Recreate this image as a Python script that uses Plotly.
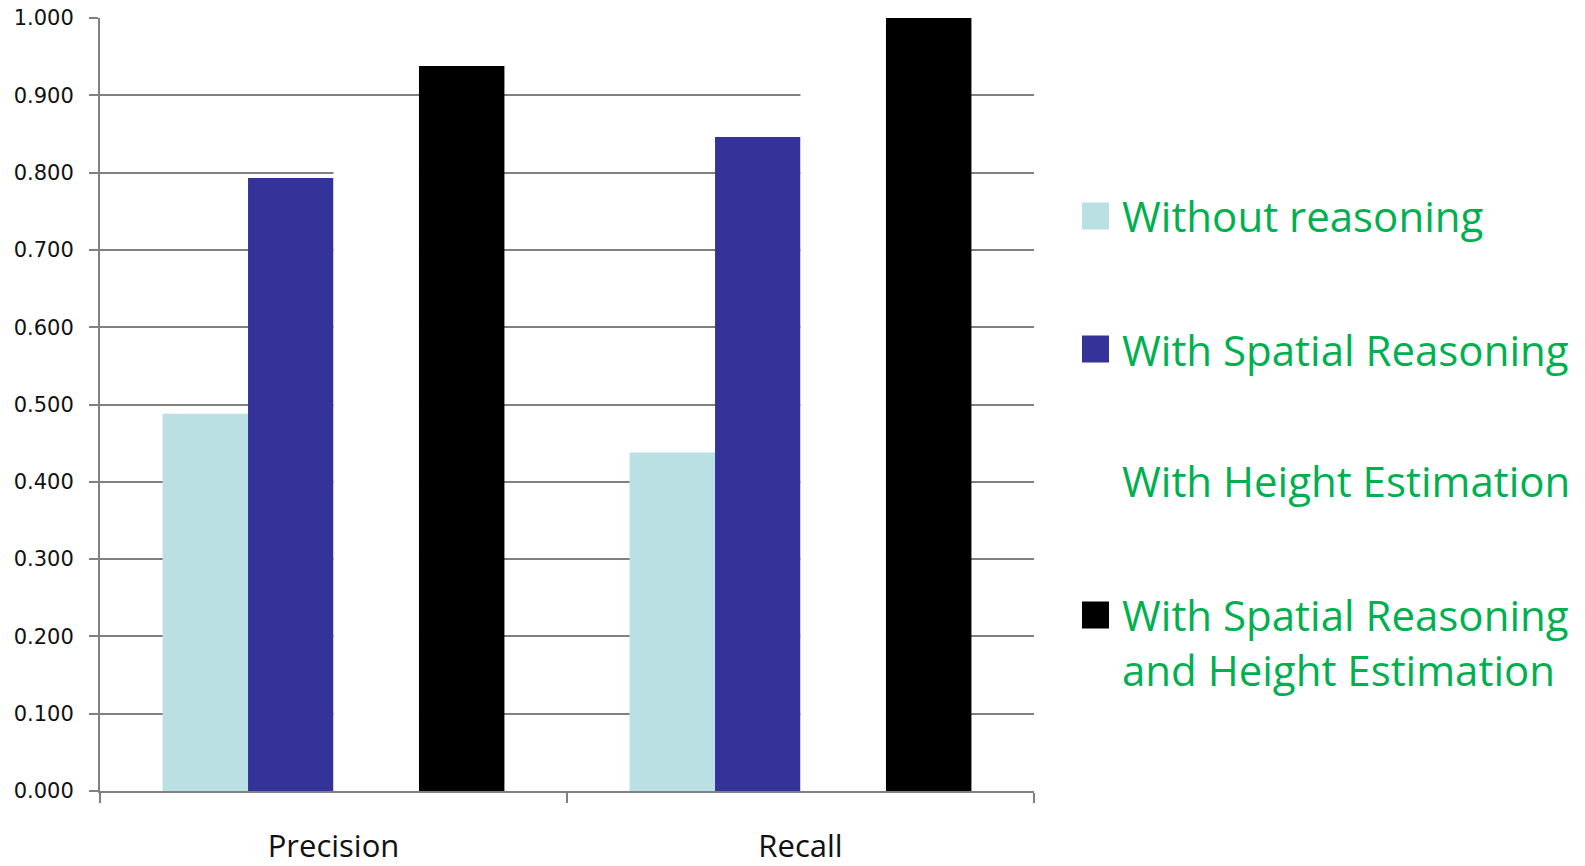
import plotly.graph_objects as go

# Metrics on the x axis
categories = ["Precision", "Recall"]

# One series per configuration
series_names = [
    "Without reasoning",
    "With Spatial Reasoning",
    "With Height Estimation",
    "With Spatial Reasoning<br>and Height Estimation",
]
without_reasoning = [0.488, 0.438]
spatial_reasoning = [0.793, 0.846]
height_estimation = [0.860, 1.000]
spatial_and_height = [0.938, 1.000]
series_values = [without_reasoning, spatial_reasoning, height_estimation, spatial_and_height]

series_colors = ["#BBE0E3", "#333399", "#FFFFFF", "#000000"]
legend_marker = [True, True, False, True]

y_ticks = [0.0, 0.1, 0.2, 0.3, 0.4, 0.5, 0.6, 0.7, 0.8, 0.9, 1.0]
y_tick_text = [f"{v:.3f}" for v in y_ticks]

W, H = 1585, 866
L, R, T, B = 100, 551, 18, 75
plot_w = W - L - R
plot_h = H - T - B


def px_to_paper_x(px):
    return (px - L) / plot_w


def px_to_paper_y(py):
    return (H - B - py) / plot_h


fig = go.Figure()
for name, vals, col in zip(series_names, series_values, series_colors):
    fig.add_trace(go.Bar(
        x=categories, y=vals, name=name.replace("<br>", " "),
        marker=dict(color=col, line=dict(width=0)),
        showlegend=False,
    ))

# Hand-built legend on the right: square swatch plus green label
legend_green = "#00B050"
legend_rows = [216, 349, 480, 642]
sw = 27
for name, col, has_marker, cy in zip(series_names, series_colors, legend_marker, legend_rows):
    if has_marker:
        sq_cy = cy if "<br>" not in name else 615
        fig.add_shape(
            type="rect", xref="paper", yref="paper",
            x0=px_to_paper_x(1082), x1=px_to_paper_x(1082 + sw),
            y0=px_to_paper_y(sq_cy + sw / 2), y1=px_to_paper_y(sq_cy - sw / 2),
            fillcolor=col, line=dict(width=0),
        )
    fig.add_annotation(
        xref="paper", yref="paper",
        x=px_to_paper_x(1120), y=px_to_paper_y(cy),
        xanchor="left", yanchor="middle", align="left",
        text=name, showarrow=False,
        font=dict(family="Open Sans", size=42, color=legend_green),
    )

fig.update_layout(
    width=W, height=H,
    margin=dict(l=L, r=R, t=T, b=B, pad=0),
    paper_bgcolor="white", plot_bgcolor="white",
    barmode="group", bargap=0.268, bargroupgap=0,
    showlegend=False,
)
fig.update_xaxes(
    type="category", tickson="boundaries",
    ticks="outside", ticklen=10, tickwidth=2, tickcolor="#808080",
    showline=True, linecolor="#808080", linewidth=2,
    showgrid=False, automargin=False,
    tickfont=dict(family="Open Sans", size=31, color="#111111"),
    ticklabelstandoff=27,
)
fig.update_yaxes(
    range=[0, 1], tickvals=y_ticks, ticktext=y_tick_text,
    ticks="outside", ticklen=9, tickwidth=2, tickcolor="#808080",
    showline=True, linecolor="#808080", linewidth=2,
    showgrid=True, gridcolor="#808080", gridwidth=2,
    zeroline=False, automargin=False,
    tickfont=dict(family="DejaVu Sans", size=21, color="#111111"),
    ticklabelstandoff=11,
)

fig.write_html("out.html")
